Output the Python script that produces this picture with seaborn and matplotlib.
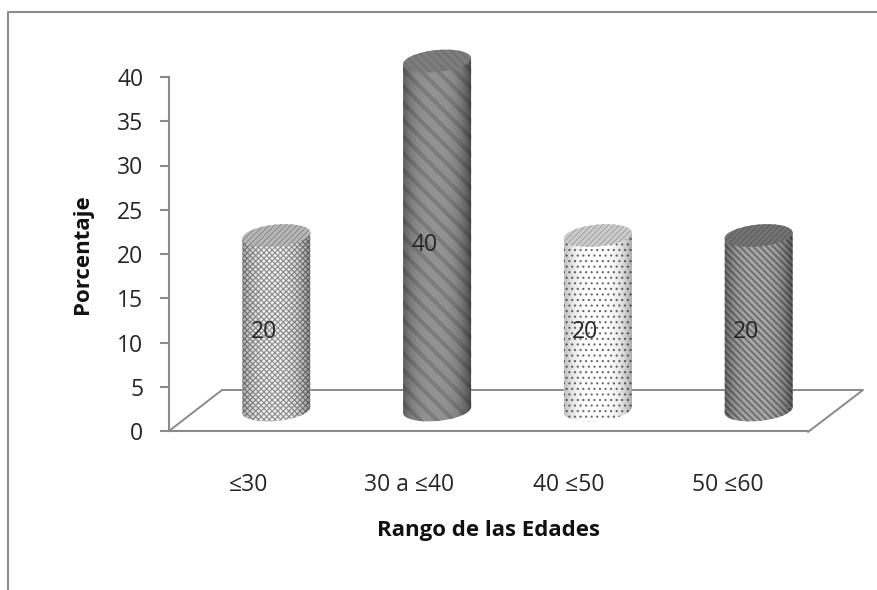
#!/usr/bin/env python3
import numpy as np
import matplotlib
matplotlib.use("Agg")
import matplotlib.pyplot as plt
from matplotlib.lines import Line2D
from matplotlib.patches import Ellipse
from matplotlib.transforms import Affine2D
import seaborn as sns

rangos = ["≤30", "30 a ≤40", "40 ≤50", "50 ≤60"]
porcentajes = [20, 40, 20, 20]
y_ticks = [0, 5, 10, 15, 20, 25, 30, 35, 40]

# look of each cylinder
base_colors = ["#efefef", "#929292", "#ffffff", "#a8a8a8"]
hatch_colors = ["#8c8c8c", "#7c7c7c", "#6a6a6a", "#6f6f6f"]
hatches = ["xxxxxx", "\\\\", "...", "\\\\\\\\\\"]
hatch_widths = [0.8, 3.0, 0.8, 1.4]
shade_strength = [0.35, 0.42, 0.3, 0.42]
top_colors = ["#b8b8b8", "#7c7c7c", "#cdcdcd", "#747474"]
top_hatch_colors = ["#8c8c8c", "#6c6c6c", "#a4a4a4", "#5e5e5e"]

GREY = "#8a8a8a"
TEXT = "#262626"
W, H = 877, 590

sns.set_theme(style="white")
plt.rcParams["font.family"] = ["Open Sans", "DejaVu Sans"]


def px_box(left, top, right, bottom):
    return [left / W, 1 - bottom / H, (right - left) / W, (bottom - top) / H]


fig = plt.figure(figsize=(W / 100, H / 100), dpi=100, facecolor="white")

# outer chart frame, open at right and bottom
fig.add_artist(Line2D([8 / W, 8 / W, 1], [0, 1 - 12 / H, 1 - 12 / H], color="#8c8c8c", lw=1.5))

# front axes: scale, labels
ax = fig.add_axes(px_box(169, 77, 808, 431))
ax.patch.set_alpha(0)
ax.set_xlim(-0.5, 3.5)
ax.set_ylim(0, 40)
ax.set_xticks(range(len(rangos)), rangos)
ax.set_yticks(y_ticks)
ax.tick_params(axis="y", length=6.5, width=1.5, color=GREY, labelsize=16.5, labelcolor=TEXT, pad=12, left=True)
ax.tick_params(axis="x", length=0, labelsize=16.5, labelcolor=TEXT, pad=30)
sns.despine(ax=ax)
for side in ("left", "bottom"):
    ax.spines[side].set_color(GREY)
    ax.spines[side].set_linewidth(1.5)
ax.set_xlabel("Rango de las Edades", fontsize=16, fontweight="bold", color="#111111", labelpad=17)
ax.set_ylabel("Porcentaje", fontsize=16, fontweight="bold", color="#111111", labelpad=17)

# floor of the 3D box
floor_x = np.array([169, 222, 863, 808]) / W
floor_y = 1 - np.array([431, 390, 390, 432]) / H
fig.add_artist(Line2D(floor_x, floor_y, color=GREY, lw=1.4, zorder=1))

# cylinders stand mid floor, so their axes is shifted back; it has room under 0 and over 40
px_per_unit = 349 / 40
ax_bar = fig.add_axes(px_box(196, 30, 839, 440), zorder=3)
ax_bar.patch.set_alpha(0)
sns.barplot(x=rangos, y=porcentajes, ax=ax_bar, width=0.423, color="#ffffff", linewidth=0, zorder=3)
ax_bar.set_xlim(-0.5, 3.5)
ax_bar.set_ylim(-30 / px_per_unit, 40 + 31 / px_per_unit)
ax_bar.axis("off")

# sideways shading of a cylinder
t = np.linspace(-1, 1, 120)
shade = np.zeros((1, t.size, 4))
shade[..., 3] = np.abs(t + 0.05) ** 3

ell_h = 22 / px_per_unit
for bar, val, bc, hc, ht, hw, ss, tc, thc in zip(ax_bar.patches, porcentajes, base_colors, hatch_colors, hatches,
                                                 hatch_widths, shade_strength, top_colors, top_hatch_colors):
    x0, w = bar.get_x(), bar.get_width()
    cx = x0 + w / 2
    # the slight tilt of the ends comes from the perspective of the original
    px = ax_bar.transData.transform((cx, 0))[0]
    tilt = ax_bar.transData + Affine2D().translate(-px, 0).skew_deg(0, 5).translate(px, 0)

    bar.set_facecolor(bc)
    bar.set_edgecolor(hc)
    bar.set_hatch(ht)
    bar.set_hatch_linewidth(hw)
    bar.set_linewidth(0)
    bar.set_transform(tilt)

    bottom = Ellipse((cx, 0), w, ell_h, facecolor=bc, edgecolor=hc, hatch=ht, linewidth=0, zorder=2.9, transform=tilt)
    bottom.set_hatch_linewidth(hw)
    ax_bar.add_patch(bottom)

    shade_i = shade.copy()
    shade_i[..., 3] *= ss
    for clip, z in ((bar, 3.1), (bottom, 2.95)):
        im = ax_bar.imshow(shade_i, extent=(x0, x0 + w, -2 * ell_h, val + ell_h), aspect="auto", zorder=z,
                           interpolation="bilinear")
        # pass the path, a Rectangle would clip to its upright bbox
        im.set_clip_path(clip.get_path(), clip.get_transform())

    top = Ellipse((cx, val), w, ell_h, facecolor=tc, edgecolor=thc, hatch="\\\\\\\\" if ht == "\\\\" else "//////",
                  linewidth=0, zorder=3.2, transform=tilt)
    top.set_hatch_linewidth(0.8)
    ax_bar.add_patch(top)

    ax_bar.annotate(str(val), (cx, val / 2), xytext=(-9, -7), textcoords="offset points", ha="center", va="center",
                    fontsize=16.5, color=TEXT, zorder=5)

ax_bar.set_xlim(-0.5, 3.5)
ax_bar.set_ylim(-30 / px_per_unit, 40 + 31 / px_per_unit)

fig.savefig("out.png", dpi=100)
